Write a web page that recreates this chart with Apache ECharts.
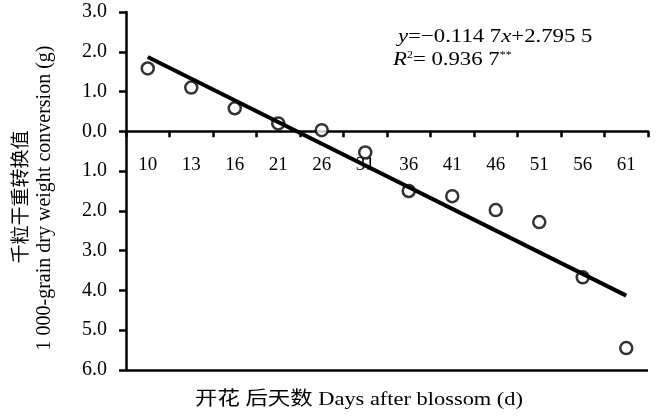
<!DOCTYPE html>
<html>
<head>
<meta charset="utf-8">
<script src="https://cdn.jsdelivr.net/npm/echarts@6/dist/echarts.min.js"></script>
<style>html,body{margin:0;padding:0;background:#fff}#c{width:656px;height:417px}</style>
</head>
<body>
<div id="c"></div>
<script>
var categories = ['10','13','16','21','26','31','36','41','46','51','56','61'];
var values = [1.58, 1.1, 0.58, 0.2, 0.03, -0.53, -1.5, -1.63, -1.98, -2.28, -3.67, -5.45];
var trend = [1.87, null, null, null, null, null, null, null, null, null, null, -4.13];
var yTicks = {min: -6, max: 3, interval: 1};
var xTitle = '开花 后天数 Days after blossom (d)';
var yTitleZh = '千粒干重转换值';
var yTitleEn = '1 000-grain dry weight conversion (g)';
var eqLine1 = 'y=−0.114 7x+2.795 5';

var SERIF = '"Liberation Serif","Times New Roman","Noto Sans CJK SC",serif';
var ctx = document.createElement('canvas').getContext('2d');
function measure(txt, size) { ctx.font = size + 'px ' + SERIF; return ctx.measureText(txt).width; }
var xTitleScale = 328 / measure(xTitle, 19);
var eqScale = 197 / measure(eqLine1, 19);

var gridTop = 12, gridBottom = 47, H = 417;
var gridHeight = H - gridTop - gridBottom;
// place the category axis at value 0 (shift up from the bottom edge)
var zeroOffset = -(0 - yTicks.min) / (yTicks.max - yTicks.min) * gridHeight;

var chart = echarts.init(document.getElementById('c'));
chart.setOption({
  animation: false,
  backgroundColor: '#fff',
  grid: {left: 126, right: 8, top: gridTop, bottom: gridBottom, containLabel: false},
  xAxis: {
    type: 'category',
    data: categories,
    boundaryGap: true,
    position: 'bottom',
    offset: zeroOffset,
    axisLine: {onZero: false, lineStyle: {color: '#000', width: 2.5}},
    axisTick: {show: true, length: 6, lineStyle: {color: '#000', width: 2.5}},
    axisLabel: {color: '#000', fontFamily: SERIF, fontSize: 19, margin: 24},
    splitLine: {show: false}
  },
  yAxis: {
    type: 'value',
    min: yTicks.min, max: yTicks.max, interval: yTicks.interval,
    axisLine: {show: true, onZero: false, lineStyle: {color: '#000', width: 2.5}},
    axisTick: {show: true, length: 7, lineStyle: {color: '#000', width: 2.5}},
    axisLabel: {color: '#000', fontFamily: SERIF, fontSize: 20, margin: 19,
      formatter: function (v) { return Math.abs(v).toFixed(1); }},
    splitLine: {show: false}
  },
  series: [{
    type: 'scatter',
    data: values,
    symbol: 'circle',
    symbolSize: 12,
    itemStyle: {color: '#fff', borderColor: '#000', borderWidth: 2.5},
    z: 2,
    markLine: {
      silent: true,
      symbol: ['none', 'none'],
      label: {show: false},
      lineStyle: {color: '#000', width: 2.5, type: 'solid'},
      data: [{yAxis: yTicks.min}]
    }
  }, {
    type: 'line',
    data: trend,
    connectNulls: true,
    symbol: 'none',
    lineStyle: {color: '#000', width: 4},
    z: 3
  }],
  graphic: [{
    type: 'text',
    x: 398, y: 37, scaleX: eqScale,
    style: {
      text: '{i|y}=−0.114 7{i|x}+2.795 5',
      fill: '#000', font: '19px ' + SERIF, verticalAlign: 'middle',
      rich: {i: {fontStyle: 'italic', fontFamily: SERIF, fontSize: 19}}
    }
  }, {
    type: 'text',
    x: 393, y: 60, scaleX: eqScale,
    style: {
      text: '{i|R}{s|2}= 0.936 7{s|**}',
      fill: '#000', font: '19px ' + SERIF, verticalAlign: 'middle',
      rich: {
        i: {fontStyle: 'italic', fontFamily: SERIF, fontSize: 19},
        s: {fontFamily: SERIF, fontSize: 10, verticalAlign: 'top', lineHeight: 14}
      }
    }
  }, {
    type: 'text',
    x: 359, y: 400, scaleX: xTitleScale,
    style: {text: xTitle, fill: '#000', font: '19px ' + SERIF, align: 'center', verticalAlign: 'middle'}
  }, {
    type: 'text',
    x: 22, y: 197, rotation: Math.PI / 2,
    style: {text: yTitleZh, fill: '#000', font: '19px ' + SERIF, align: 'center', verticalAlign: 'middle'}
  }, {
    type: 'text',
    x: 45, y: 198, rotation: Math.PI / 2,
    style: {text: yTitleEn, fill: '#000', font: '20px ' + SERIF, align: 'center', verticalAlign: 'middle'}
  }]
});
</script>
</body>
</html>
